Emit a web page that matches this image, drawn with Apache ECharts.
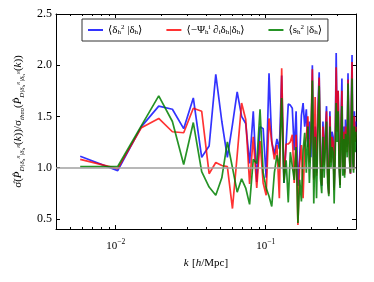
<!DOCTYPE html>
<html><head><meta charset="utf-8">
<script src="https://cdn.jsdelivr.net/npm/echarts@6/dist/echarts.min.js"></script>
<style>html,body{margin:0;padding:0;background:#fff}#c{width:374px;height:282px}</style>
</head><body><div id="c"></div>
<script>
const kValues = [0.00580,0.01032,0.01484,0.01936,0.02388,0.02840,0.03292,0.03744,0.04196,0.04648,
0.05100,0.05552,0.06004,0.06456,0.06908,0.07360,0.07812,0.08264,0.08716,0.09168,
0.09620,0.10072,0.10524,0.10976,0.11428,0.11880,0.12332,0.12784,0.13236,0.13688,
0.14140,0.14592,0.15044,0.15496,0.15948,0.16400,0.16852,0.17304,0.17756,0.18208,
0.18660,0.19112,0.19564,0.20016,0.20468,0.20920,0.21372,0.21824,0.22276,0.22728,
0.23180,0.23632,0.24084,0.24536,0.24988,0.25440,0.25892,0.26344,0.26796,0.27248,
0.27700,0.28152,0.28604,0.29056,0.29508,0.29960,0.30412,0.30864,0.31316,0.31768,
0.32220,0.32672,0.33124,0.33576,0.34028,0.34480,0.34932,0.35384,0.35836,0.36288,
0.36740,0.37192,0.37644,0.38096,0.38548,0.39000,0.39452,0.39904];

const blueValues = [1.11,0.97,1.40,1.60,1.57,1.38,1.68,1.10,1.21,1.91,
1.45,1.10,1.42,1.74,1.50,1.43,1.04,1.55,0.86,1.40,
1.38,0.90,1.92,1.25,1.13,1.28,1.18,1.90,0.85,1.24,
1.62,1.61,1.58,1.17,1.55,0.82,1.10,1.51,1.63,1.40,
1.57,1.20,1.45,1.10,2.00,0.90,1.40,0.95,1.55,1.93,
1.10,0.82,1.45,1.05,1.35,1.60,0.95,0.75,1.55,1.10,
1.35,1.30,0.80,1.25,2.12,1.40,1.75,1.10,0.83,1.45,
1.87,1.05,1.40,0.95,1.47,1.30,1.20,1.92,1.40,1.10,
0.94,1.60,2.10,1.20,1.00,1.55,1.30,1.45];

const redValues = [1.08,0.99,1.39,1.48,1.35,1.34,1.58,1.55,0.94,1.05,
1.02,1.01,0.60,1.12,1.63,1.47,0.84,1.30,0.80,1.26,
0.85,0.73,1.48,1.25,1.08,1.22,0.70,1.97,0.88,1.23,
1.23,1.25,1.32,0.85,1.32,0.44,1.05,1.22,0.70,1.22,
1.30,1.50,1.05,1.30,1.96,0.88,1.69,0.92,1.45,1.88,
1.05,0.83,1.40,1.02,1.30,1.55,0.92,0.74,1.50,1.05,
1.30,1.25,0.78,1.20,1.98,1.35,1.75,1.08,0.83,1.40,
1.75,1.00,1.35,0.93,1.40,1.30,1.15,1.86,1.35,1.08,
0.94,1.55,2.03,1.15,0.98,1.50,1.25,1.40];

const greenValues = [1.01,1.01,1.41,1.70,1.45,1.03,1.44,0.96,0.81,0.73,
0.90,1.25,1.00,0.76,0.89,0.80,0.64,1.08,1.04,1.57,
0.95,0.80,0.72,0.62,0.95,1.12,1.00,1.68,0.85,1.07,
0.66,1.15,1.16,0.88,1.20,0.46,0.88,0.67,1.17,1.34,
0.95,1.40,0.85,1.25,1.85,0.65,1.30,0.70,1.35,1.80,
0.90,0.75,1.30,0.90,1.20,1.45,0.85,0.72,1.40,1.00,
1.20,1.15,0.65,1.10,1.63,1.25,1.55,1.00,0.80,1.30,
1.60,0.92,1.28,0.90,1.33,1.25,1.10,1.82,1.30,1.05,
0.95,1.45,1.87,1.05,0.95,1.40,1.15,1.35];

const xMajorTicks = [0.01, 0.1];
const xMinorTicks = [0.005,0.006,0.007,0.008,0.009,0.02,0.03,0.04,0.05,0.06,0.07,0.08,0.09,0.2,0.3,0.4];
const yTicks = [0.5, 1.0, 1.5, 2.0, 2.5];
const xMin = 0.004, xMax = 0.4, yMin = 0.4, yMax = 2.5;
const refLevel = 1.0;

const F = "'Liberation Serif','DejaVu Serif',serif";
const chart = echarts.init(document.getElementById('c'), null, {renderer: 'canvas'});

const legendNames = {
  b: '{m|⟨δ}{s|h}{p|2}{m| |δ}{s|h}{m|⟩}',
  r: '{m|⟨−Ψ}{s|h}{p|i}{m| ∂}{s|i}{m|δ}{s|h}{m||δ}{s|h}{m|⟩}',
  g: '{m|⟨s}{s|h}{p|2}{m| |δ}{s|h}{m|⟩}'
};
const richBase = {
  m: {fontFamily: F, fontSize: 11, lineHeight: 12, color: '#000', verticalAlign: 'middle'},
  s: {fontFamily: F, fontSize: 7, lineHeight: 12, color: '#000', verticalAlign: 'bottom'},
  p: {fontFamily: F, fontSize: 7, lineHeight: 12, color: '#000', verticalAlign: 'top'}
};

const yName = '{m|σ̂(}{mi|P̂}{s|D|δ}{ss|h}{sr|R}{s||δ}{ss|h}{sr|R}{m|(}{mi|k}{m|))/σ}{s|theo}{m|(}{mi|P̂}{s|D|δ}{ss|h}{sr|R}{s||δ}{ss|h}{sr|R}{m|(}{mi|k}{m|))}';
const yRich = {
  m: {fontFamily: F, fontSize: 11, lineHeight: 15, color: '#000'},
  mi: {fontFamily: F, fontSize: 11, lineHeight: 15, color: '#000', fontStyle: 'italic'},
  s: {fontFamily: F, fontSize: 7, lineHeight: 15, color: '#000', verticalAlign: 'bottom', fontStyle: 'italic'},
  ss: {fontFamily: F, fontSize: 5, lineHeight: 15, color: '#000', verticalAlign: 'bottom'},
  sr: {fontFamily: F, fontSize: 5, lineHeight: 15, color: '#000', verticalAlign: 'middle', fontStyle: 'italic'}
};

function mkSeries(name, vals, color, extra) {
  return Object.assign({
    name: name, type: 'line', xAxisIndex: 0, yAxisIndex: 0,
    data: kValues.map((k, i) => [k, vals[i]]),
    symbol: 'none', showSymbol: false, color: color,
    lineStyle: {color: color, width: 1.7}, animation: false
  }, extra || {});
}

const option = {
  animation: false,
  grid: {left: 56, right: 18, top: 14, bottom: 53, containLabel: false},
  legend: {
    left: 82, top: 19, padding: [5, 6, 5, 6], itemGap: 24, itemWidth: 15, itemHeight: 2,
    icon: 'rect', borderColor: '#333', borderWidth: 1, backgroundColor: '#fff',
    data: ['b', 'r', 'g'],
    textStyle: {fontFamily: F, fontSize: 11, color: '#000', rich: richBase},
    formatter: n => legendNames[n]
  },
  xAxis: [
    {type: 'log', logBase: 10, min: xMin, max: xMax, position: 'bottom',
     axisLine: {show: true, onZero: false, lineStyle: {color: '#000', width: 1}},
     axisTick: {show: true, inside: true, length: 4, lineStyle: {color: '#000'}},
     minorTick: {show: false}, splitLine: {show: false},
     axisLabel: {showMinLabel: false, showMaxLabel: false, margin: 9,
       formatter: v => '{b|10}{p|' + String(Math.round(Math.log10(v))).replace('-', '−') + '}',
       rich: {b: {fontFamily: F, fontSize: 11, lineHeight: 14, color: '#000', verticalAlign: 'bottom'},
              p: {fontFamily: F, fontSize: 7.5, lineHeight: 14, color: '#000', verticalAlign: 'top'}}},
     name: '{i|k} {m|[}{i|h}{m|/Mpc]}', nameLocation: 'middle', nameGap: 26,
     nameTextStyle: {rich: {i: {fontFamily: F, fontSize: 11, fontStyle: 'italic', color: '#000'},
                            m: {fontFamily: F, fontSize: 11, color: '#000'}}}},
    {type: 'value', min: Math.log10(xMin), max: Math.log10(xMax), position: 'bottom',
     axisLine: {show: false}, splitLine: {show: false}, axisLabel: {show: false},
     axisTick: {show: true, inside: true, length: 2, customValues: xMinorTicks.map(Math.log10), lineStyle: {color: '#000'}}},
    {type: 'log', logBase: 10, min: xMin, max: xMax, position: 'top',
     axisLine: {show: true, onZero: false, lineStyle: {color: '#000', width: 1}},
     axisTick: {show: true, inside: true, length: 4, lineStyle: {color: '#000'}},
     minorTick: {show: false}, splitLine: {show: false}, axisLabel: {show: false}},
    {type: 'value', min: Math.log10(xMin), max: Math.log10(xMax), position: 'top',
     axisLine: {show: false}, splitLine: {show: false}, axisLabel: {show: false},
     axisTick: {show: true, inside: true, length: 2, customValues: xMinorTicks.map(Math.log10), lineStyle: {color: '#000'}}}
  ],
  yAxis: [
    {type: 'value', min: yMin, max: yMax, position: 'left',
     axisLine: {show: true, onZero: false, lineStyle: {color: '#000', width: 1}},
     axisTick: {show: true, inside: true, length: 4, customValues: yTicks, lineStyle: {color: '#000'}},
     axisLabel: {customValues: yTicks, formatter: v => v.toFixed(1), margin: 4,
       fontFamily: F, fontSize: 12, color: '#000'},
     splitLine: {show: false},
     name: yName, nameLocation: 'middle', nameRotate: 90, nameGap: 19,
     nameTextStyle: {rich: yRich}},
    {type: 'value', min: yMin, max: yMax, position: 'right',
     axisLine: {show: true, onZero: false, lineStyle: {color: '#000', width: 1}},
     axisTick: {show: true, inside: true, length: 4, customValues: yTicks, lineStyle: {color: '#000'}},
     axisLabel: {show: false}, splitLine: {show: false}}
  ],
  series: [
    mkSeries('b', blueValues, 'rgba(0,0,255,0.8)'),
    mkSeries('r', redValues, 'rgba(255,0,0,0.8)'),
    mkSeries('g', greenValues, 'rgba(0,128,0,0.85)', {
      markLine: {silent: true, symbol: ['none', 'none'], label: {show: false},
        lineStyle: {color: '#a0a0a0', width: 1.5, type: 'solid'},
        data: [{yAxis: refLevel}], animation: false}
    })
  ]
};
chart.setOption(option);
</script>
</body></html>
